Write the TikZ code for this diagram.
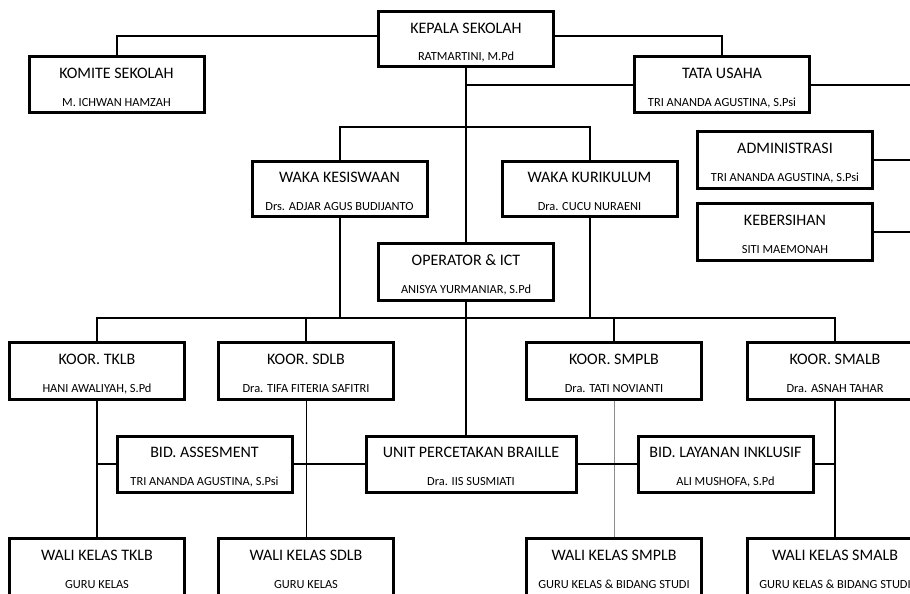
\documentclass[tikz,border=0pt]{standalone}
\usepackage{fontspec}
\setmainfont{Carlito}
\usepackage{tikz}
\newcommand{\nm}{\fontsize{12.4}{28}\selectfont}

\begin{document}
\begin{tikzpicture}[
  x=1pt, y=-1pt,
  box/.style={draw, line width=3pt, minimum width=175pt, minimum height=55pt, inner sep=0pt, align=center, text=black, font=\fontsize{16}{28}\selectfont, text height=43pt, text depth=0pt},
  link/.style={line width=2pt},
  thin/.style={line width=1pt},
  grey/.style={line width=1pt, draw=black!45}
]
\useasboundingbox (0,0) rectangle (910,594);
\clip (0,0) rectangle (910,594);
\node[box] (ks) at (466,39.5) {KEPALA SEKOLAH\\{\nm RATMARTINI, M.Pd}};
\node[box] (km) at (116.5,84.5) {KOMITE SEKOLAH\\{\nm M. ICHWAN HAMZAH}};
\node[box] (tu) at (722,84.5) {TATA USAHA\\{\nm TRI ANANDA AGUSTINA, S.Psi}};
\node[box, minimum height=57pt] (adm) at (785,159.5) {ADMINISTRASI\\{\nm TRI ANANDA AGUSTINA, S.Psi}};
\node[box, minimum height=57pt] (keb) at (785,232) {KEBERSIHAN\\{\nm SITI MAEMONAH}};
\node[box] (wks) at (339.5,189) {WAKA KESISWAAN\\{\nm Drs. ADJAR AGUS BUDIJANTO}};
\node[box] (wkr) at (589.5,189) {WAKA KURIKULUM\\{\nm Dra. CUCU NURAENI}};
\node[box, minimum height=57pt] (op) at (466,271.5) {OPERATOR \& ICT\\{\nm ANISYA YURMANIAR, S.Pd}};
\node[box, minimum height=57pt] (tk) at (97,370.5) {KOOR. TKLB\\{\nm HANI AWALIYAH, S.Pd}};
\node[box, minimum height=57pt] (sd) at (306,370.5) {KOOR. SDLB\\{\nm Dra. TIFA FITERIA SAFITRI}};
\node[box, minimum height=57pt] (smp) at (614,370.5) {KOOR. SMPLB\\{\nm Dra. TATI NOVIANTI}};
\node[box, minimum height=57pt] (sma) at (835,370.5) {KOOR. SMALB\\{\nm Dra. ASNAH TAHAR}};
\node[box, minimum height=56pt] (as) at (204.5,464) {BID. ASSESMENT\\{\nm TRI ANANDA AGUSTINA, S.Psi}};
\node[box, minimum height=56pt, minimum width=210pt] (br) at (471,464) {UNIT PERCETAKAN BRAILLE\\{\nm Dra. IIS SUSMIATI}};
\node[box, minimum height=56pt] (li) at (725.5,464) {BID. LAYANAN INKLUSIF\\{\nm ALI MUSHOFA, S.Pd}};
\node[box, minimum height=57pt] (wtk) at (97,566.5) {WALI KELAS TKLB\\{\nm GURU KELAS}};
\node[box, minimum height=57pt] (wsd) at (306,566.5) {WALI KELAS SDLB\\{\nm GURU KELAS}};
\node[box, minimum height=57pt] (wsmp) at (614,566.5) {WALI KELAS SMPLB\\{\nm GURU KELAS \& BIDANG STUDI}};
\node[box, minimum height=57pt] (wsma) at (835,566.5) {WALI KELAS SMALB\\{\nm GURU KELAS \& BIDANG STUDI}};
\coordinate (edge) at (915,85);
\coordinate (wbar) at (466,127);
\coordinate (kbar) at (466,318);
\draw[link] (km.north) |- ([yshift=3.5pt]ks.west);
\draw[link] ([yshift=3.5pt]ks.east) -| (tu.north);
\draw[link] (ks.south) -- (op.north);
\draw[link] (op.south) -- (op.south |- br.north);
\draw[link] (ks.south |- tu.west) -- (tu.west);
\draw[link] (tu.east) -- (tu.east -| edge);
\draw[link] (adm.east) -- (adm.east -| edge);
\draw[link] (keb.east) -- (keb.east -| edge);
\draw[link] (wks.north) |- (wbar) -| (wkr.north);
\draw[link] (tk.north) |- (kbar) -| (sma.north);
\draw[link] (wks.south) -- (wks.south |- kbar);
\draw[link] (wkr.south) -- (wkr.south |- kbar);
\draw[link] (sd.north) -- (sd.north |- kbar);
\draw[link] (smp.north) -- (smp.north |- kbar);
\draw[link] (tk.south) -- (wtk.north);
\draw[thin] (sd.south) -- (wsd.north);
\draw[grey] (smp.south) -- (wsmp.north);
\draw[link] (sma.south) -- (wsma.north);
\draw[link] (as.west) -- (as.west -| tk.south);
\draw[link] (as.east) -- (br.west);
\draw[link] (br.east) -- (li.west);
\draw[link] (li.east) -- (li.east -| sma.south);
\end{tikzpicture}
\end{document}
